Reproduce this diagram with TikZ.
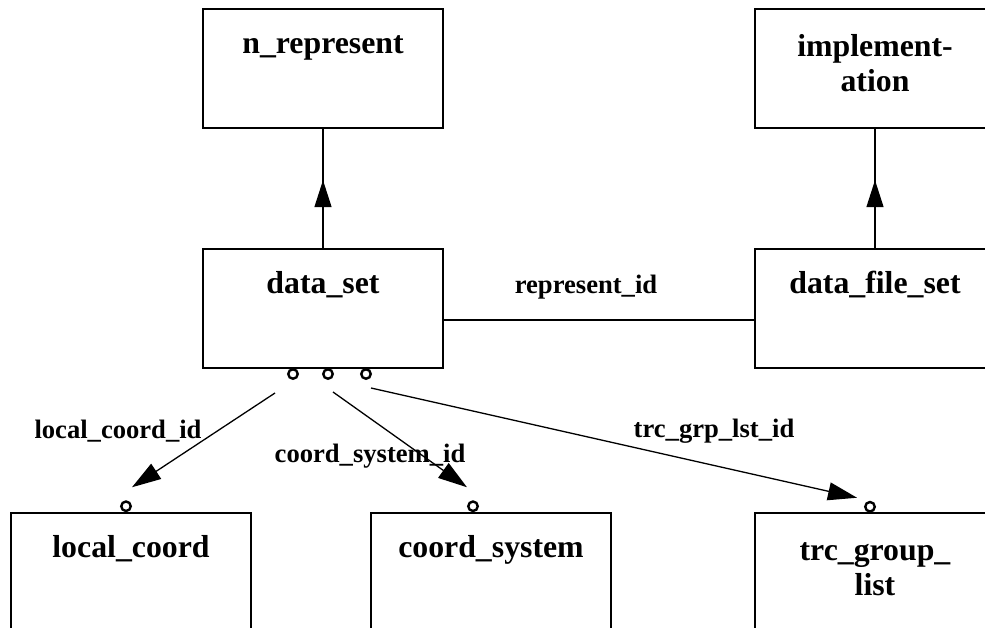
\documentclass[tikz,border=0pt]{standalone}
\usepackage{fontspec}
\setmainfont{Liberation Serif}
\usetikzlibrary{arrows.meta,calc,decorations.markings}

\tikzset{
  entity/.style={draw, line width=1.5pt, rectangle, minimum width=240pt,
    minimum height=119pt, inner sep=0pt},
  boxlabel/.style={anchor=base, inner sep=0pt,
    font=\fontsize{31.8}{35}\selectfont\bfseries},
  linklabel/.style={anchor=base, inner sep=0pt,
    font=\fontsize{26.6}{30}\selectfont\bfseries},
  port/.style={draw, circle, line width=2.4pt, minimum size=9.5pt, inner sep=0pt},
  conn/.style={line width=1.3pt},
  headtip/.style={-{Triangle[length=29pt,width=18pt]}},
  midhead/.style={postaction={decorate}, decoration={markings,
    mark=at position #1 with {\arrow{Triangle[length=27pt,width=17pt]}}}}
}

\newcommand{\twolines}[2]{\begin{tabular}[t]{@{}c@{}}#1\\#2\end{tabular}}

\begin{document}
\begin{tikzpicture}[x=1pt,y=-1pt]
  \clip (0,0) rectangle (985,628);
  \fill[white] (0,0) rectangle (985,628);

  % entity boxes
  \node[entity] (nrep) at (323,68.5) {};
  \node[entity] (impl) at (875,68.5) {};
  \node[entity] (ds)   at (323,308.5) {};
  \node[entity] (dfs)  at (875,308.5) {};
  \node[entity] (lc)   at (131,572.5) {};
  \node[entity] (cs)   at (491,572.5) {};
  \node[entity] (trc)  at (875,572.5) {};

  % entity names
  \node[boxlabel] (nrepT) at ($(nrep.north)+(0,45)$) {n\_represent};
  \node[boxlabel] (implT) at ($(impl.north)+(0,48)$) {\twolines{implement-}{ation}};
  \node[boxlabel] (dsT)   at ($(ds.north)+(0,45)$) {data\_set};
  \node[boxlabel] (dfsT)  at ($(dfs.north)+(0,45)$) {data\_file\_set};
  \node[boxlabel] (lcT)   at ($(lc.north)+(0,45.5)$) {local\_coord};
  \node[boxlabel] (csT)   at ($(cs.north)+(0,45.5)$) {coord\_system};
  \node[boxlabel] (trcT)  at ($(trc.north)+(0,48)$) {\twolines{trc\_group\_}{list}};

  % supertype links
  \draw[conn, midhead=0.57] (ds.north) -- (nrep.south);
  \draw[line width=2.2pt] (ds.north) -- ($(ds.north)!0.35!(nrep.south)$);
  \draw[conn, midhead=0.57] (dfs.north) -- (impl.south);
  \draw[line width=2.2pt] (dfs.north) -- ($(dfs.north)!0.35!(impl.south)$);

  % represent_id relation
  \draw[conn] ($(ds.east)+(0,11.5)$) -- ($(dfs.west)+(0,11.5)$);
  \node[linklabel] (repL) at (586,294) {represent\_id};

  % ports on data_set and on the referenced entities
  \node[port] (p1) at (293,374) {};
  \node[port] (p2) at (328,374) {};
  \node[port] (p3) at (366,374) {};
  \node[port] (q1) at ($(lc.north)+(-5,-6)$) {};
  \node[port] (q2) at ($(cs.north)+(-18,-6)$) {};
  \node[port] (q3) at ($(trc.north)+(-5,-5.5)$) {};

  % reference connectors
  \coordinate (s1) at ($(p1)+(-18,19)$);
  \coordinate (t1) at ($(q1)+(6,-19)$);
  \coordinate (s2) at ($(p2)+(5,18)$);
  \coordinate (t2) at ($(q2)+(-6,-19)$);
  \coordinate (s3) at ($(p3)+(5,14)$);
  \coordinate (t3) at ($(q3)+(-13,-9)$);
  \draw[conn, headtip] (s1) -- (t1);
  \draw[conn, headtip] (s2) -- (t2);
  \draw[conn, headtip] (s3) -- (t3);

  \node[linklabel] (lcL)  at (118,438) {local\_coord\_id};
  \node[linklabel] (csL)  at (370,462) {coord\_system\_id};
  \node[linklabel] (trcL) at (714,437) {trc\_grp\_lst\_id};
\end{tikzpicture}
\end{document}
